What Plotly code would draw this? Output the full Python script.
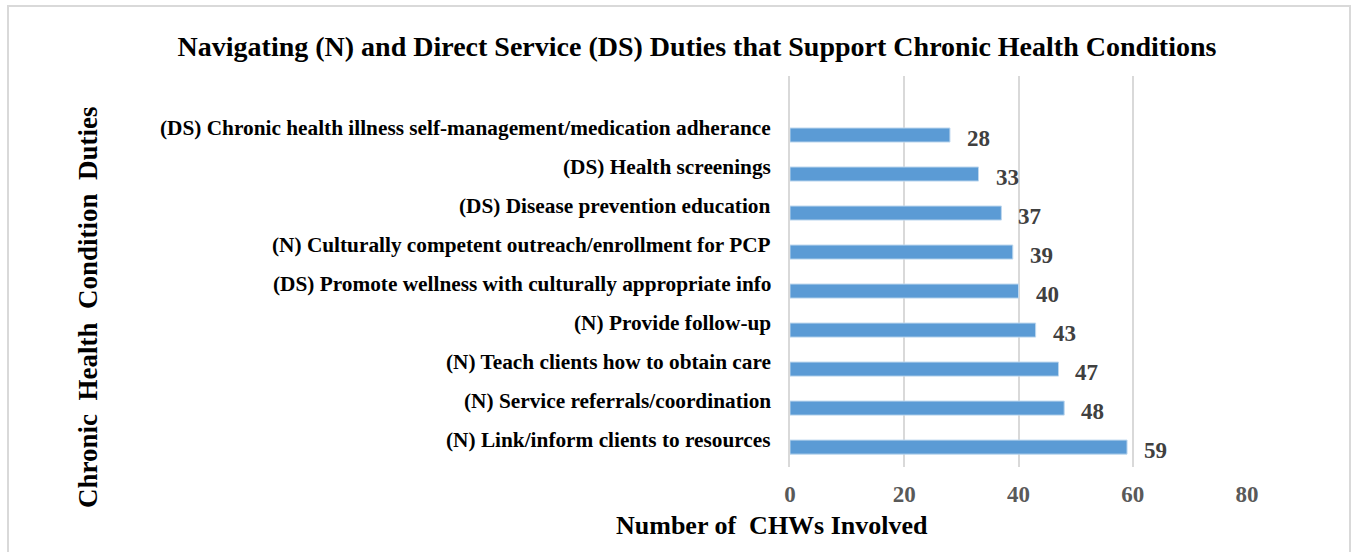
import plotly.graph_objects as go

# Duties, listed bottom to top as drawn on the category axis
duties = [
    "(N) Link/inform clients to resources",
    "(N) Service referrals/coordination",
    "(N) Teach clients how to obtain care",
    "(N) Provide follow-up",
    "(DS) Promote wellness with culturally appropriate info",
    "(N) Culturally competent outreach/enrollment for PCP",
    "(DS) Disease prevention education ",
    "(DS) Health screenings",
    "(DS) Chronic health illness self-management/medication adherance ",
]
chw_counts = [59, 48, 47, 43, 40, 39, 37, 33, 28]
x_ticks = [0, 20, 40, 60, 80]

W, H = 1353, 552
L, R, T, B = 790, 1247, 76, 467
pw, ph = R - L, B - T


def px_x(x):
    return (x - L) / pw


def px_y(y):
    return (B - y) / ph


serif = "Liberation Serif, Times New Roman, serif"

fig = go.Figure(
    go.Bar(
        x=chw_counts,
        y=duties,
        orientation="h",
        marker=dict(color="#5B9BD5", line=dict(color="#BDD7EE", width=1)),
        width=0.36,
        hoverinfo="x+y",
    )
)

# category labels, set slightly above each bar
annotations = [
    dict(
        x=px_x(773),
        y=d,
        xref="paper",
        yref="y",
        text=d.rstrip(),
        showarrow=False,
        xanchor="right",
        yanchor="middle",
        yshift=7,
        font=dict(family=serif, size=21.3, color="black", weight="bold"),
    )
    for d in duties
]

# value labels next to each bar end
annotations += [
    dict(
        x=v,
        y=d,
        xref="x",
        yref="y",
        text=str(v),
        showarrow=False,
        xanchor="left",
        yanchor="middle",
        xshift=15,
        yshift=-3,
        font=dict(family=serif, size=23, color="#404040", weight="bold"),
    )
    for d, v in zip(duties, chw_counts)
]

annotations += [
    dict(
        text="Chronic  Health  Condition  Duties",
        textangle=-90,
        xref="paper",
        yref="paper",
        x=px_x(88),
        y=px_y(307),
        xanchor="center",
        yanchor="middle",
        showarrow=False,
        font=dict(family=serif, size=27, color="black", weight="bold"),
    ),
    dict(
        text="Number of  CHWs Involved",
        xref="paper",
        yref="paper",
        x=px_x(772),
        y=px_y(525),
        xanchor="center",
        yanchor="middle",
        showarrow=False,
        font=dict(family=serif, size=26, color="black", weight="bold"),
    ),
]

fig.update_layout(
    width=W,
    height=H,
    margin=dict(l=L, r=W - R, t=T, b=H - B),
    paper_bgcolor="white",
    plot_bgcolor="white",
    showlegend=False,
    title=dict(
        text="Navigating (N) and Direct Service (DS) Duties that Support Chronic Health Conditions",
        font=dict(family=serif, size=28, color="black", weight="bold"),
        x=697 / W,
        xanchor="center",
        y=1 - 46 / H,
        yanchor="middle",
    ),
    xaxis=dict(
        range=[0, 80],
        tickvals=x_ticks,
        showgrid=True,
        gridcolor="#D9D9D9",
        gridwidth=2,
        zeroline=False,
        showline=False,
        ticks="",
        ticklabelstandoff=11,
        tickfont=dict(family=serif, size=23, color="#595959", weight="bold"),
    ),
    yaxis=dict(
        range=[-0.51, 9.513],
        showgrid=False,
        zeroline=False,
        showline=True,
        linecolor="#D9D9D9",
        linewidth=2,
        ticks="",
        showticklabels=False,
    ),
    annotations=annotations,
    shapes=[
        dict(
            type="rect",
            xref="paper",
            yref="paper",
            x0=px_x(8),
            x1=px_x(1350),
            y0=px_y(560),
            y1=px_y(6),
            line=dict(color="#D9D9D9", width=2),
            fillcolor="rgba(0,0,0,0)",
            layer="below",
        )
    ],
)

fig.write_html("out.html")
